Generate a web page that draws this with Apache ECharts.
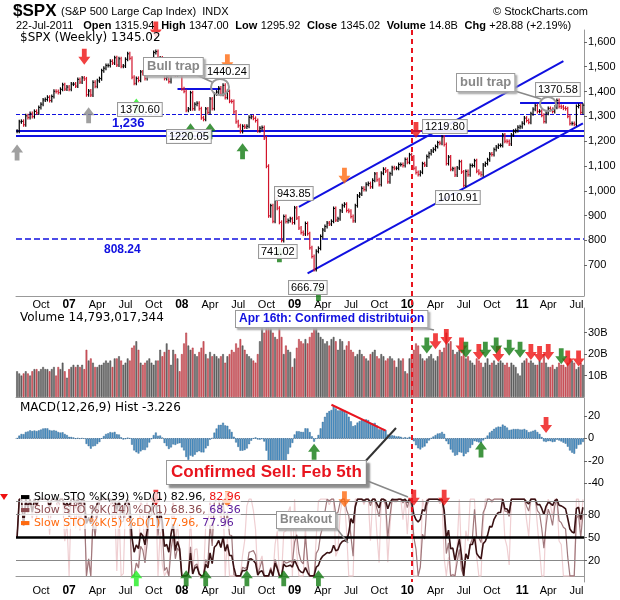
<!DOCTYPE html>
<html><head><meta charset="utf-8">
<script src="https://cdn.jsdelivr.net/npm/echarts@6/dist/echarts.min.js"></script>
<style>body{margin:0;background:#fff}#c{width:620px;height:600px}</style></head>
<body><div id="c"></div>
<script>
const startDate = '2006-07-21';
const closes = [
1240,1278,1280,1266,1302,1295,1311,1299,1320,1314,1336,1349,1366,1368,1377,1364,1380,1401,1400,1396,1409,1427,1410,1418,
1409,1430,1430,1422,1449,1438,1455,1451,1387,1402,1386,1437,1421,1443,1452,1484,1494,1505,1505,1522,1515,1536,1507,1532,1502,1503,1530,1552,1534,1458,1433,1453,1445,1479,1473,1453,1484,1525,1527,1557,1561,1500,1535,1509,1453,1458,1440,1481,1504,1467,1484,1478,
1411,1401,1325,1330,1395,1331,1349,1353,1331,1294,1288,1330,1316,1370,1332,1390,1398,1414,1389,1425,1376,1400,1361,1360,1318,1278,1262,1239,1260,1257,1260,1296,1298,1292,1283,1242,1252,1255,1213,1099,899,940,877,968,930,873,800,896,876,880,887,872,
931,890,850,832,826,868,827,770,735,683,756,768,816,842,856,870,866,877,929,882,887,919,940,946,921,918,896,879,940,979,987,1010,1005,1026,1029,1016,1042,1068,1044,1025,1071,1087,1080,1036,1069,1093,1091,1091,1106,1106,1102,1126,1115,
1145,1136,1091,1074,1066,1075,1109,1104,1138,1150,1160,1167,1178,1194,1192,1217,1187,1110,1136,1087,1089,1064,1092,1117,1076,1022,1078,1065,1102,1102,1121,1079,1071,1065,1104,1110,1125,1148,1146,1166,1176,1183,1183,1225,1200,1199,1189,1225,1240,1243,1256,1258,
1272,1293,1283,1276,1310,1329,1343,1320,1321,1304,1279,1313,1332,1328,1320,1337,1364,1340,1338,1333,1331,1300,1271,1271,1268,1340,1344,1316,1345];
const volumes = [
12,11,10,11,12,11,10,12,13,13,12,13,14,13,13,12,13,14,10,14,13,16,12,9,
13,14,15,14,15,14,15,13,22,17,18,16,14,14,15,15,16,17,16,17,14,18,18,19,17,15,16,18,17,23,24,26,22,16,15,16,17,18,16,15,17,17,22,19,21,25,22,15,22,20,18,12,
20,25,30,24,22,23,20,19,21,23,26,20,18,21,19,20,19,18,19,20,16,19,20,22,21,25,23,27,24,22,20,19,18,17,16,20,26,33,30,35,38,32,30,28,27,32,28,20,24,22,21,14,
18,23,27,26,25,27,25,28,30,33,34,30,28,27,25,26,24,27,28,26,22,27,26,22,24,26,22,21,19,20,22,20,19,18,17,20,21,22,19,18,20,19,17,18,19,18,17,14,18,17,18,12,11,
18,20,22,25,24,20,18,17,18,19,20,18,17,19,22,21,23,30,25,26,22,20,21,22,19,22,18,19,17,16,15,18,17,16,14,16,18,15,16,17,15,16,17,16,15,16,14,16,15,14,11,10,
16,17,18,16,17,16,15,15,17,16,20,16,14,14,15,13,14,16,15,15,14,16,18,17,16,13,14,16,15];
const priceTicks = [700,800,900,1000,1100,1200,1300,1400,1500,1600];
const volTicks = [10,20,30];
const macdTicks = [-40,-20,0,20];
const stoTicks = [20,50,80];
// annotations: [weekIndex, value]
const priceUp = {gray:[[0,1195],[33,1345]], lime:[[55,1380]], green:[[80,1280],[89,1280],[104,1200],[121,785],[139,628]]};
const priceDown = {red:[[31,1500],[64,1610],[184,1205]], orange:[[97,1478],[151,1020]]};
const volDownRed = [[193,26],[198,28],[205,24],[213,21],[222,20],[237,21],[241,20],[245,21],[254,18],[259,18]];
const volDownGreen = [[189,24],[207,22],[216,22],[221,24],[227,23],[232,22],[251,19]];
const macdUp = [[137,-12],[214,-10]];
const macdDown = [[244,12]];
const stoUpLime = [[55,-3]];
const stoUpGreen = [[78,-3],[87,-3],[106,-3],[123,-3],[139,-3]];
const stoDownRed = [[64,102],[183,102],[197,102]];
const stoDownOrange = [[97,100],[151,100]];

const N = closes.length;
const dates = [];
const d0 = new Date(startDate+'T00:00:00Z');
for (let i=0;i<N;i++){ const d=new Date(d0.getTime()+i*7*864e5); dates.push(d.toISOString().slice(0,10)); }
function ema(arr,n){const k=2/(n+1);const o=[];arr.forEach((v,i)=>o.push(i?v*k+o[i-1]*(1-k):v));return o;}
const e12=ema(closes,12), e26=ema(closes,26);
const macd=e12.map((v,i)=>v-e26[i]); const sig=ema(macd,9);
const hist=macd.map((v,i)=>+(v-sig[i]).toFixed(2));
function sto(n){return closes.map((c,i)=>{const w=closes.slice(Math.max(0,i-n+1),i+1);const lo=Math.min(...w),hi=Math.max(...w);return hi>lo?+((c-lo)/(hi-lo)*100).toFixed(1):50;});}
const k39=sto(39),k14=sto(14),k5=sto(5);
const volData = volumes.map((v,i)=>({value:v,itemStyle:{color:(i>0&&closes[i]<closes[i-1])?'#d9636b':'#6e6e6e',borderColor:(i>0&&closes[i]<closes[i-1])?'#a82a33':'#444',borderWidth:0.5}}));

const mon=s=>+s.slice(5,7);
function showLbl(i){ if(i===0) return false; const m=mon(dates[i]); return [1,4,7,10].includes(m) && mon(dates[i-1])!==m; }
const names={1:'',4:'Apr',7:'Jul',10:'Oct'};
function fmt(v){const m=mon(v); if(m===1) return '{b|'+v.slice(2,4)+'}'; return names[m];}

const L=16,R=36;
const grids=[{left:L,right:R,top:30,height:266},{left:L,right:R,top:308,height:89},{left:L,right:R,top:398,height:92},{left:L,right:R,top:490,height:92}];
const xAxes=grids.map((g,i)=>({type:'category',gridIndex:i,data:dates,boundaryGap:true,
 axisLine:{lineStyle:{color:'#999'}},axisTick:{show:false},
 axisLabel:{show:i===0||i===3,interval:(idx)=>showLbl(idx),formatter:fmt,fontSize:11,color:'#000',margin:3,fontFamily:'Arial',rich:{b:{fontWeight:'bold',fontSize:12}}}}));
function yax(i,min,max,ticks,f){return {type:'value',gridIndex:i,position:'right',min,max,
 axisLine:{show:true,lineStyle:{color:'#999'}},splitLine:{show:false},
 axisTick:{show:true,customValues:ticks,length:3,lineStyle:{color:'#666'}},
 axisLabel:{customValues:ticks,formatter:f||'{value}',fontSize:11,color:'#000',fontFamily:'Arial',margin:4}};}
const yAxes=[yax(0,576,1648,priceTicks),yax(1,0,41.5,volTicks,'{value}B'),yax(2,-46,36,macdTicks),yax(3,-8,112,stoTicks)];

const arrowD='path://M3,0 L7,0 L7,6 L10,6 L5,12 L0,6 L3,6 Z';
const arrowU='path://M5,0 L10,6 L7,6 L7,12 L3,12 L3,6 L0,6 Z';
function arrows(data,xi,up,color,off){return {type:'scatter',xAxisIndex:xi,yAxisIndex:xi,data,symbol:up?arrowU:arrowD,symbolSize:[12,16],symbolOffset:[0,off||0],itemStyle:{color},z:10,silent:true};}

const priceBars={type:'custom',xAxisIndex:0,yAxisIndex:0,data:closes.map((c,i)=>[i,c]),
 renderItem:(p,api)=>{const i=api.value(0);const c=api.value(1);const pc=i>0?closes[i-1]:c;
  const a=api.coord([i,pc]),b=api.coord([i,c]);const up=c>=pc;
  const y1=Math.min(a[1],b[1])-2,y2=Math.max(a[1],b[1])+2;
  return {type:'group',children:[
   {type:'line',shape:{x1:a[0],y1,x2:a[0],y2},style:{stroke:up?'#000':'#d2142b',lineWidth:1.2}},
   {type:'line',shape:{x1:a[0],y1:b[1],x2:a[0]+1.5,y2:b[1]},style:{stroke:up?'#000':'#d2142b',lineWidth:1}}]};},z:5};

const hline=(y,type,w,extra)=>Object.assign({yAxis:y,lineStyle:{color:'#1010e0',type,width:w}},extra||{});
const box={backgroundColor:'#fff',borderColor:'#999',borderWidth:1,padding:[2,3],shadowColor:'#aaa',shadowOffsetX:2,shadowOffsetY:2,shadowBlur:2};
const graphics=[
 {type:'text',left:13,top:3,style:{text:'$SPX',font:'bold 17px Arial',fill:'#000'}},
 {type:'text',left:61,top:6,style:{text:'(S&P 500 Large Cap Index)  INDX',font:'11px Arial',fill:'#000'}},
 {type:'text',left:493,top:6,style:{text:'© StockCharts.com',font:'11px Arial',fill:'#000'}},
 {type:'text',left:16,top:20,style:{rich:{n:{font:'11px Arial'},b:{font:'bold 11px Arial'}},text:'{n|22-Jul-2011}   {b|Open} {n|1315.94}  {b|High} {n|1347.00}  {b|Low} {n|1295.92}  {b|Close} {n|1345.02}  {b|Volume} {n|14.8B}  {b|Chg} {n|+28.88 (+2.19%)}',fill:'#000'}},
 {type:'text',left:20,top:32,style:{text:'$SPX (Weekly) 1345.02',font:'12px DejaVu Sans',fill:'#000',backgroundColor:'rgba(255,255,255,0.8)'}},
 {type:'text',left:20,top:312,style:{text:'Volume 14,793,017,344',font:'12px DejaVu Sans',fill:'#000'}},
 {type:'text',left:20,top:402,style:{text:'MACD(12,26,9) Hist -3.226',font:'12px DejaVu Sans',fill:'#000'}},
 {type:'text',left:20,top:492,style:{rich:{a:{fill:'#000'},r:{fill:'#ee1111'}},text:'{a|▬ Slow STO %K(39) %D(1) 82.96,} {r|82.96}',font:'11px DejaVu Sans',backgroundColor:'rgba(255,255,255,0.7)'}},
 {type:'text',left:20,top:505,style:{rich:{a:{fill:'#8b4a4e'},p:{fill:'#5a1a9a'}},text:'{a|▬ Slow STO %K(14) %D(1) 68.36,} {p|68.36}',font:'11px DejaVu Sans',backgroundColor:'rgba(255,255,255,0.7)'}},
 {type:'text',left:20,top:518,style:{rich:{a:{fill:'#ff6a10'},p:{fill:'#5a1a9a'}},text:'{a|▬ Slow STO %K(5) %D(1) 77.96,} {p|77.96}',font:'11px DejaVu Sans',backgroundColor:'rgba(255,255,255,0.7)'}},
 {type:'text',left:112,top:117,style:{text:'1,236',font:'bold 13px Arial',fill:'#1010e0'}},
 {type:'text',left:104,top:244,style:{text:'808.24',font:'bold 12px Arial',fill:'#1010e0'}},
 ...[['1370.60',117,102],['1440.24',204,64],['1220.05',166,129],['943.85',274,186],['741.02',258,244],['666.79',288,280],['1219.80',422,119],['1010.91',435,190],['1370.58',535,82]].map(([t,x,y])=>({type:'text',left:x,top:y,style:{text:t,font:'11px Arial',fill:'#000',backgroundColor:'rgba(255,255,255,0.9)',borderColor:'#999',borderWidth:1,padding:[1,2]}})),
 {type:'ellipse',shape:{cx:220,cy:87,rx:9,ry:8},style:{fill:'none',stroke:'#999',lineWidth:2}},
 {type:'ellipse',shape:{cx:548,cy:104,rx:8,ry:7},style:{fill:'none',stroke:'#999',lineWidth:2}},
 {type:'polyline',shape:{points:[[190,72],[212,82]]},style:{stroke:'#888',lineWidth:1.5}},
 {type:'polyline',shape:{points:[[505,88],[541,99]]},style:{stroke:'#888',lineWidth:1.5}},
 {type:'text',left:143,top:57,style:Object.assign({text:'Bull trap',font:'bold 13px Arial',fill:'#888'},box)},
 {type:'text',left:456,top:73,style:Object.assign({text:'bull trap',font:'bold 13px Arial',fill:'#888'},box)},
 {type:'polyline',shape:{points:[[420,327],[434,330]]},style:{stroke:'#888',lineWidth:1.5}},
 {type:'text',left:235,top:310,style:Object.assign({text:'Apr 16th: Confirmed distribtuion',font:'bold 12px Arial',fill:'#1010e0'},box)},
 {type:'polyline',shape:{points:[[362,465],[396,428]]},style:{stroke:'#333',lineWidth:2}},
 {type:'polyline',shape:{points:[[360,478],[408,497]]},style:{stroke:'#888',lineWidth:1.5}},
 {type:'text',left:166,top:460,style:Object.assign({},box,{text:'Confirmed Sell: Feb 5th',font:'bold 17px Arial',fill:'#e8141e',padding:[3,4],shadowColor:'#888',shadowOffsetX:3,shadowOffsetY:3})},
 {type:'polyline',shape:{points:[[330,520],[348,543]]},style:{stroke:'#888',lineWidth:1.5}},
 {type:'text',left:276,top:511,style:Object.assign({text:'Breakout',font:'bold 12px Arial',fill:'#888'},box)},
 {type:'line',shape:{x1:412,y1:30,x2:412,y2:582},style:{stroke:'#e8141e',lineWidth:2,lineDash:[5,4]}},
 {type:'polygon',shape:{points:[[0,494],[8,494],[4,500]]},style:{fill:'#ee1111'}}
].map(g=>Object.assign(g,{z:100}));
const opt={animation:false,grid:grids,xAxis:xAxes,yAxis:yAxes,
series:[
 priceBars,
 {type:'line',xAxisIndex:0,yAxisIndex:0,data:[],markLine:{silent:true,symbol:'none',label:{show:false},data:[
   hline(1310,'dashed',1),hline(1241,'solid',2),hline(1221,'solid',2),hline(808.24,'dashed',1.5),
   [{coord:[74,1410],lineStyle:{color:'#1010e0',width:2,type:'solid'}},{coord:[94,1410]}],
   [{coord:[232,1354],lineStyle:{color:'#1010e0',width:2,type:'solid'}},{coord:[261,1354]}],
   [{coord:[130,935],lineStyle:{color:'#1010e0',width:2,type:'solid'}},{coord:[252,1523]}],
   [{coord:[134,667],lineStyle:{color:'#1010e0',width:2,type:'solid'}},{coord:[261,1272]}]
 ]}},
 {type:'bar',xAxisIndex:1,yAxisIndex:1,data:volData,barCategoryGap:'20%'},
 {type:'bar',xAxisIndex:2,yAxisIndex:2,data:hist,barCategoryGap:'15%',itemStyle:{color:'#4d93c8',borderColor:'#2a5f8a',borderWidth:0.4},
  markLine:{silent:true,symbol:'none',label:{show:false},data:[
   {yAxis:0,lineStyle:{color:'#8fb6d8',type:'dotted',width:1}},
   [{coord:[145,30],lineStyle:{color:'#e8141e',width:2,type:'solid'}},{coord:[170,7]}]]}},
 {type:'line',xAxisIndex:3,yAxisIndex:3,data:k5,showSymbol:false,lineStyle:{color:'#efcfd2',width:1.2},
  markLine:{silent:true,symbol:'none',label:{show:false},data:[
   {yAxis:97,lineStyle:{color:'#888',type:'solid',width:1}},{yAxis:80,lineStyle:{color:'#888',type:'solid',width:1}},
   {yAxis:20,lineStyle:{color:'#888',type:'solid',width:1}},{yAxis:50,lineStyle:{color:'#000',type:'solid',width:2.5}}]}},
 {type:'line',xAxisIndex:3,yAxisIndex:3,data:k14,showSymbol:false,lineStyle:{color:'#a0787c',width:1.2}},
 {type:'line',xAxisIndex:3,yAxisIndex:3,data:k39,showSymbol:false,lineStyle:{color:'#3a1214',width:1.6}},
 arrows(priceUp.gray,0,true,'#888',10),arrows(priceUp.lime,0,true,'#22ee22',10),arrows(priceUp.green,0,true,'#117a11',10),
 arrows(priceDown.red,0,false,'#ee1111',-10),arrows(priceDown.orange,0,false,'#ff6a10',-10),
 arrows(volDownRed,1,false,'#ee1111',0),arrows(volDownGreen,1,false,'#117a11',0),
 arrows(macdUp,2,true,'#117a11',0),arrows(macdDown,2,false,'#ee1111',0),
 arrows(stoUpLime,3,true,'#22ee22',0),arrows(stoUpGreen,3,true,'#117a11',0),
 arrows(stoDownRed,3,false,'#ee1111',0),arrows(stoDownOrange,3,false,'#ff6a10',0)
],
graphic:graphics};
echarts.init(document.getElementById('c')).setOption(opt);
</script></body></html>
